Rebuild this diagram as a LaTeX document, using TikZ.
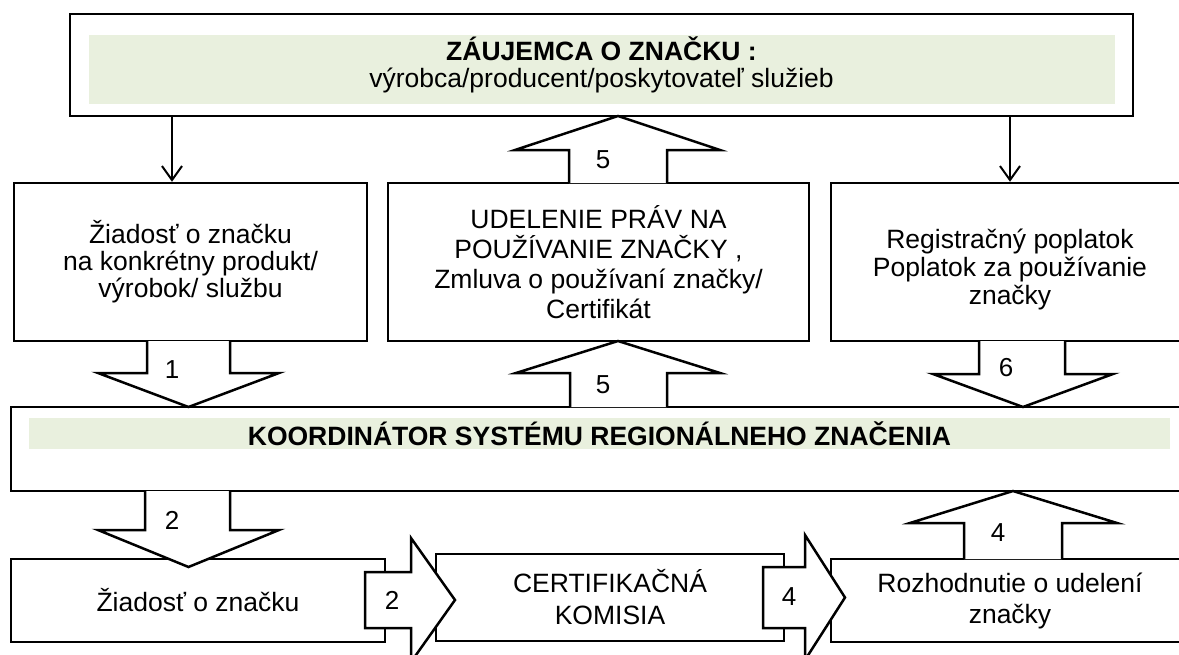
\documentclass[tikz,border=0pt]{standalone}
\usepackage{fontspec}
\setmainfont{Liberation Sans}
\usetikzlibrary{arrows.meta}
\definecolor{zelena}{RGB}{233,240,222}

\begin{document}
\begin{tikzpicture}[x=1pt,y=-1pt,
   ramcek/.style={draw=black,line width=2.5pt,align=center,inner sep=0pt,
      font=\fontsize{26.5}{27}\selectfont},
   pas/.style={fill=zelena,inner sep=0pt,align=center,font=\fontsize{26.5}{27}\selectfont},
   blok/.style={draw=black,line width=2.5pt,fill=white,line join=miter},
   cislo/.style={inner sep=0pt,font=\fontsize{26}{27}\selectfont},
   tenka/.style={line width=2pt,-{Straight Barb[length=14pt,width=20pt,line width=2pt]}}]
   \useasboundingbox (0,0) rectangle (1179,654);
   \clip (0,0) rectangle (1179,654);
   % zaujemca
   \fill[zelena] (89,35) rectangle (1115,104);
   \node[ramcek,minimum width=1063pt,minimum height=102pt] (zaujemca) at (601.5,65)
      {\textbf{ZÁUJEMCA O ZNAČKU :}\\výrobca/producent/poskytovateľ služieb};
   % druhy rad
   \node[ramcek,minimum width=353pt,minimum height=158pt] (ziadost1) at (190.5,262)
      {Žiadosť o značku\\na konkrétny produkt/\\výrobok/ službu};
   \node[ramcek,minimum width=421pt,minimum height=158pt,font=\fontsize{26.5}{30}\selectfont] (udelenie) at (598.5,262)
      {UDELENIE PRÁV NA\\POUŽÍVANIE ZNAČKY ,\\Zmluva o používaní značky/\\Certifikát};
   \node[ramcek,minimum width=358pt,minimum height=158pt,font=\fontsize{26.5}{28}\selectfont] (poplatok) at (1010,262)
      {\rule{0pt}{34pt}Registračný poplatok\\Poplatok za používanie\\značky};
   % koordinator
   \node[ramcek,minimum width=1179pt,minimum height=84pt] (koord) at (600.5,449) {};
   \node[pas,minimum width=1141pt,minimum height=31pt] (koordpas) at (599.5,433.5)
      {\textbf{KOORDINÁTOR SYSTÉMU REGIONÁLNEHO ZNAČENIA}};
   % spodny rad
   \node[ramcek,minimum width=374pt,minimum height=83pt] (ziadost2) at (198,600.5)
      {Žiadosť o značku};
   \node[ramcek,minimum width=348pt,minimum height=87pt,font=\fontsize{26.5}{32}\selectfont] (komisia) at (610,597.5)
      {CERTIFIKAČNÁ\\KOMISIA};
   \node[ramcek,minimum width=358pt,minimum height=83pt,font=\fontsize{26.5}{31}\selectfont] (rozhodnutie) at (1010,600.5)
      {Rozhodnutie o udelení\\značky};
   % tenke sipky
   \coordinate (z1) at ([xshift=-18.5pt]ziadost1.north);
   \draw[tenka] (z1 |- zaujemca.south) -- (z1);
   \draw[tenka] (poplatok.north |- zaujemca.south) -- (poplatok.north);
   % blokove sipky
   \filldraw[blok] (147,341) -- (147,373) -- (98,373) -- (188.5,407) -- (279,373) -- (230,373) -- (230,341);
   \filldraw[blok] (569,183) -- (569,150) -- (515,150) -- (618,116) -- (720,150) -- (667,150) -- (667,183);
   \filldraw[blok] (570,407) -- (570,373) -- (516,373) -- (618,341) -- (720,373) -- (667,373) -- (667,407);
   \filldraw[blok] (979,341) -- (979,374) -- (933,374) -- (1023,407) -- (1113,374) -- (1065,374) -- (1065,341);
   \filldraw[blok] (145,491) -- (145,530) -- (98,530) -- (188.5,567) -- (279,530) -- (230,530) -- (230,491);
   \filldraw[blok] (365,572) -- (411,572) -- (411,538) -- (455,600) -- (411,662) -- (411,628) -- (365,628) -- cycle;
   \filldraw[blok] (763,567) -- (805,567) -- (805,535) -- (845,597.5) -- (805,660) -- (805,628) -- (763,628) -- cycle;
   \filldraw[blok] (964,559) -- (964,523) -- (910,523) -- (1013,491) -- (1117,523) -- (1062,523) -- (1062,559);
   % cisla
   \node[cislo] (c1) at (172,370) {1};
   \node[cislo] (c5a) at (603,160) {5};
   \node[cislo] (c5b) at (603,385) {5};
   \node[cislo] (c6) at (1006,368) {6};
   \node[cislo] (c2a) at (172,520) {2};
   \node[cislo] (c2b) at (392,600) {2};
   \node[cislo] (c4a) at (789,597) {4};
   \node[cislo] (c4b) at (998,533) {4};
\end{tikzpicture}
\end{document}
